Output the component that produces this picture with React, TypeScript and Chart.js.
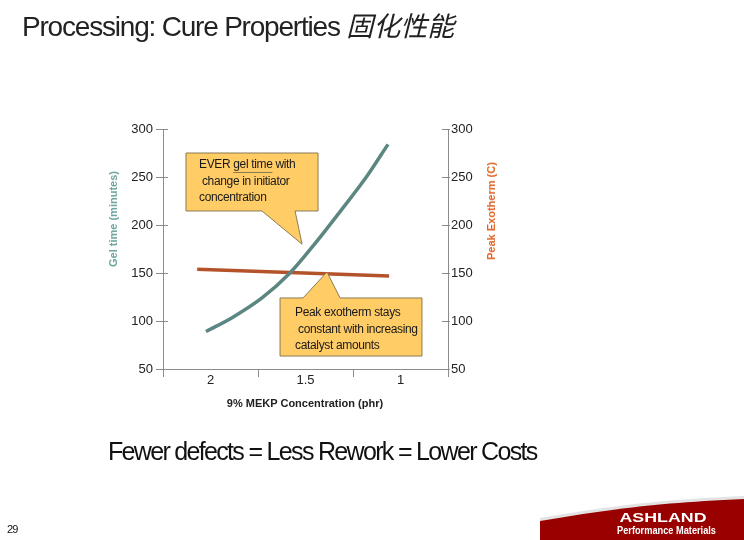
import React, { useEffect, useRef } from "react";
import { Chart, registerables } from "chart.js";

Chart.register(...registerables);

// ---- data ----
const xTickLabels = [2, 1.5, 1];
const xBandEdges = [2.25, 1.75, 1.25, 0.75];
const yTicks = [50, 100, 150, 200, 250, 300];

const gelX = [2.024, 1.882, 1.729, 1.582, 1.461, 1.318, 1.176, 1.066];
const gelY = [89, 104, 124, 150, 178, 214, 251, 284];

const peakX = [2.07, 1.06];
const peakY = [154, 147];

const calloutGelLines = ["EVER gel time with", " change in initiator", "concentration"];
const calloutPeakLines = ["Peak exotherm stays", " constant with increasing", "catalyst amounts"];

// callout geometry in data units: [xLeft, xRight, yTop, yBottom], pointer base x pair, tip (x,y)
const calloutGelBox = [2.129, 1.434, 275, 214.6];
const calloutGelBase = [1.729, 1.555];
const calloutGelTip = [1.518, 180];

const calloutPeakBox = [1.634, 0.887, 124, 63.5];
const calloutPeakBase = [1.513, 1.318];
const calloutPeakTip = [1.387, 151];

const axisGray = "#8c8c8c";

const innerTicksPlugin = {
  id: "innerTicks",
  afterDraw(chart: any) {
    const ctx = chart.ctx as CanvasRenderingContext2D;
    const ys = chart.scales.y;
    const area = chart.chartArea;
    ctx.save();
    ctx.strokeStyle = axisGray;
    ctx.lineWidth = 1;
    yTicks.forEach((v) => {
      const py = Math.round(ys.getPixelForValue(v)) + 0.5;
      ctx.beginPath();
      ctx.moveTo(area.left, py);
      ctx.lineTo(area.left + 5, py);
      ctx.moveTo(area.right, py);
      ctx.lineTo(area.right - 6, py);
      ctx.stroke();
    });
    ctx.restore();
  },
};

const calloutPlugin = {
  id: "callouts",
  afterDatasetsDraw(chart: any) {
    const ctx = chart.ctx as CanvasRenderingContext2D;
    const xs = chart.scales.x;
    const ys = chart.scales.y;
    const X = (v: number) => xs.getPixelForValue(v);
    const Y = (v: number) => ys.getPixelForValue(v);

    const draw = (
      box: number[],
      base: number[],
      tip: number[],
      pointerBottom: boolean,
      lines: string[],
      inset: number,
      lineOffsets: number[],
      underline?: { prefix: string; word: string }
    ) => {
      const l = X(box[0]);
      const r = X(box[1]);
      const t = Y(box[2]);
      const b = Y(box[3]);
      const b1 = X(base[0]);
      const b2 = X(base[1]);
      const tx = X(tip[0]);
      const ty = Y(tip[1]);
      ctx.save();
      ctx.beginPath();
      if (pointerBottom) {
        ctx.moveTo(l, t);
        ctx.lineTo(r, t);
        ctx.lineTo(r, b);
        ctx.lineTo(b2, b);
        ctx.lineTo(tx, ty);
        ctx.lineTo(b1, b);
        ctx.lineTo(l, b);
      } else {
        ctx.moveTo(l, t);
        ctx.lineTo(b1, t);
        ctx.lineTo(tx, ty);
        ctx.lineTo(b2, t);
        ctx.lineTo(r, t);
        ctx.lineTo(r, b);
        ctx.lineTo(l, b);
      }
      ctx.closePath();
      ctx.fillStyle = "#FFCC66";
      ctx.fill();
      ctx.strokeStyle = "#8a7b52";
      ctx.lineWidth = 1;
      ctx.stroke();

      ctx.fillStyle = "#1a1a1a";
      ctx.font = "12px 'Liberation Sans', Arial, sans-serif";
      (ctx as any).letterSpacing = "-0.35px";
      ctx.textBaseline = "middle";
      ctx.textAlign = "left";
      lines.forEach((s, i) => {
        ctx.fillText(s, l + inset, t + lineOffsets[i]);
      });
      if (underline) {
        const w0 = ctx.measureText(underline.prefix).width;
        const w1 = ctx.measureText(underline.word).width;
        ctx.strokeStyle = "#8a7b52";
        ctx.beginPath();
        ctx.moveTo(l + inset + w0, t + lineOffsets[0] + 7.5);
        ctx.lineTo(l + inset + w0 + w1, t + lineOffsets[0] + 7.5);
        ctx.stroke();
      }
      ctx.restore();
    };

    draw(calloutGelBox, calloutGelBase, calloutGelTip, true, calloutGelLines, 13, [12, 29, 45], {
      prefix: "EVER ",
      word: "gel time",
    });
    draw(calloutPeakBox, calloutPeakBase, calloutPeakTip, false, calloutPeakLines, 15, [15, 32, 48]);
  },
};

const tickFont = { family: "'Liberation Sans', Arial, sans-serif", size: 13 };

export default function App() {
  const ref = useRef<HTMLCanvasElement | null>(null);

  useEffect(() => {
    document.body.style.margin = "0";
    const canvas = ref.current;
    if (!canvas) return;
    const chart = new Chart(canvas, {
      type: "line",
      data: {
        datasets: [
          {
            label: "Gel time",
            data: gelX.map((x, i) => ({ x, y: gelY[i] })),
            borderColor: "#5b8682",
            borderWidth: 3.5,
            pointRadius: 0,
            cubicInterpolationMode: "monotone",
            yAxisID: "y",
          },
          {
            label: "Peak Exotherm",
            data: peakX.map((x, i) => ({ x, y: peakY[i] })),
            borderColor: "#b4532a",
            borderWidth: 3.5,
            pointRadius: 0,
            tension: 0,
            yAxisID: "y2",
          },
        ],
      },
      options: {
        animation: false,
        responsive: false,
        maintainAspectRatio: false,
        layout: { padding: { left: 113, right: 246, top: 129, bottom: 121 } },
        plugins: { legend: { display: false }, tooltip: { enabled: false } },
        scales: {
          x: {
            type: "linear",
            reverse: true,
            min: 0.75,
            max: 2.25,
            afterBuildTicks: (scale: any) => {
              const vals = [...xBandEdges, ...xTickLabels].sort((a, b) => b - a);
              scale.ticks = vals.map((v) => ({ value: v }));
            },
            afterFit: (scale: any) => {
              scale.height = 50;
            },
            ticks: {
              autoSkip: false,
              maxRotation: 0,
              padding: -4,
              color: "#222",
              font: tickFont,
              callback: (v: any) => (xTickLabels.includes(Number(v)) ? String(v) : ""),
            },
            grid: {
              drawOnChartArea: false,
              tickLength: 8,
              color: (c: any) =>
                c.tick && xTickLabels.includes(c.tick.value) ? "rgba(0,0,0,0)" : axisGray,
            },
            border: { display: true, color: axisGray, width: 1 },
          },
          y: {
            type: "linear",
            position: "left",
            min: 50,
            max: 300,
            afterBuildTicks: (scale: any) => {
              scale.ticks = yTicks.map((v) => ({ value: v }));
            },
            afterFit: (scale: any) => {
              scale.width = 50;
            },
            ticks: { color: "#222", font: tickFont, padding: 3 },
            grid: { drawOnChartArea: false, tickLength: 7, color: axisGray },
            border: { display: true, color: axisGray, width: 1 },
          },
          y2: {
            type: "linear",
            position: "right",
            min: 50,
            max: 300,
            afterBuildTicks: (scale: any) => {
              scale.ticks = yTicks.map((v) => ({ value: v }));
            },
            afterFit: (scale: any) => {
              scale.width = 50;
            },
            ticks: { color: "#222", font: tickFont, padding: 1 },
            grid: { drawOnChartArea: false, tickLength: 2, color: axisGray },
            border: { display: true, color: axisGray, width: 1 },
          },
        },
      },
      plugins: [calloutPlugin, innerTicksPlugin],
    } as any);
    return () => chart.destroy();
  }, []);

  const sans = "'Liberation Sans', Arial, sans-serif";

  return (
    <div style={{ position: "absolute", left: 0, top: 0, width: 744, height: 540, background: "#fff", overflow: "hidden", fontFamily: sans }}>
      <canvas ref={ref} width={744} height={540} style={{ position: "absolute", left: 0, top: 0 }} />
      <div
        style={{
          position: "absolute",
          left: 22,
          top: 11,
          fontSize: 28,
          lineHeight: "28px",
          letterSpacing: "-1.2px",
          color: "#222",
          whiteSpace: "nowrap",
        }}
      >
        Processing: Cure Properties{" "}
        <span style={{ fontFamily: "'Noto Sans CJK SC', sans-serif", fontStyle: "italic", letterSpacing: "0px", fontSize: 27 }}>固化性能</span>
      </div>
      <div
        style={{
          position: "absolute",
          left: 113,
          top: 219,
          transform: "translate(-50%, -50%) rotate(-90deg)",
          fontSize: 11,
          fontWeight: "bold",
          color: "#6ea49f",
          whiteSpace: "nowrap",
        }}
      >
        Gel time (minutes)
      </div>
      <div
        style={{
          position: "absolute",
          left: 491,
          top: 211,
          transform: "translate(-50%, -50%) rotate(-90deg)",
          fontSize: 11,
          fontWeight: "bold",
          color: "#df6428",
          whiteSpace: "nowrap",
        }}
      >
        Peak Exotherm (C)
      </div>
      <div
        style={{
          position: "absolute",
          left: 305,
          top: 403,
          transform: "translate(-50%, -50%)",
          fontSize: 11,
          fontWeight: "bold",
          color: "#222",
          whiteSpace: "nowrap",
        }}
      >
        9% MEKP Concentration (phr)
      </div>
      <div
        style={{
          position: "absolute",
          left: 108,
          top: 439,
          fontSize: 25,
          lineHeight: "25px",
          letterSpacing: "-1.68px",
          color: "#111",
          whiteSpace: "nowrap",
        }}
      >
        Fewer defects = Less Rework = Lower Costs
      </div>
      <div style={{ position: "absolute", left: 7, top: 523, fontSize: 11, letterSpacing: "-0.8px", color: "#111" }}>29</div>
      <svg width={744} height={540} style={{ position: "absolute", left: 0, top: 0 }}>
        <path d="M540 518 C 600 508, 650 500, 744 496 L 744 540 L 540 540 Z" fill="#e3e3e3" />
        <path d="M540 521 C 600 511, 650 503, 744 499 L 744 540 L 540 540 Z" fill="#990000" />
        <text x={663} y={522} textAnchor="middle" fill="#fff" fontFamily={sans} fontWeight="bold" fontSize={13} textLength={87} lengthAdjust="spacingAndGlyphs">
          ASHLAND
        </text>
        <text x={666.5} y={534} textAnchor="middle" fill="#fff" fontFamily={sans} fontWeight="bold" fontSize={10.5} textLength={99} lengthAdjust="spacingAndGlyphs">
          Performance Materials
        </text>
      </svg>
    </div>
  );
}
